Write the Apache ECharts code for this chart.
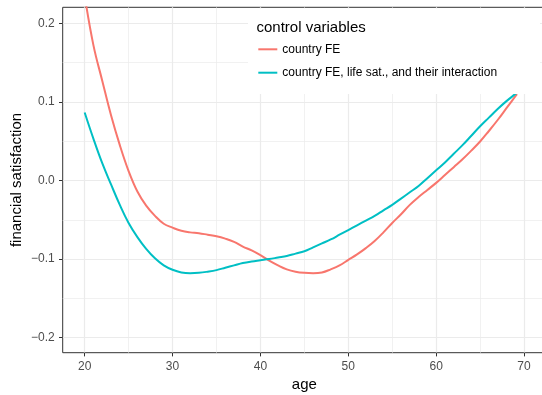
<!DOCTYPE html>
<html>
<head>
<meta charset="utf-8">
<script src="https://cdn.jsdelivr.net/npm/echarts@6/dist/echarts.min.js"></script>
<style>
  html, body { margin: 0; padding: 0; background: #fff; }
  #chart { width: 542px; height: 395px; }
</style>
</head>
<body>
<div id="chart"></div>
<script>
// Predicted financial satisfaction by age, under two sets of control variables
const seriesNames = ['country FE', 'country FE, life sat., and their interaction'];

const agesFE = [20, 21, 22, 23, 24, 25, 26, 27, 28, 29, 30, 31, 32, 33, 34, 35, 36, 37, 38, 39,
  40, 41, 42, 43, 44, 45, 46, 47, 48, 49, 50, 51, 52, 53, 54, 55, 56, 57, 58, 59,
  60, 61, 62, 63, 64, 65, 66, 67, 68, 69, 69.2];
const valuesFE = [0.235, 0.172, 0.127, 0.083, 0.045, 0.012, -0.014, -0.032, -0.045, -0.055,
  -0.060, -0.064, -0.066, -0.067, -0.069, -0.071, -0.074, -0.078, -0.084, -0.089,
  -0.095, -0.102, -0.108, -0.113, -0.116, -0.1175, -0.118, -0.117, -0.113, -0.108,
  -0.101, -0.094, -0.086, -0.077, -0.066, -0.054, -0.043, -0.031, -0.021, -0.012,
  -0.003, 0.007, 0.017, 0.027, 0.038, 0.0496, 0.063, 0.077, 0.092, 0.107, 0.110];

const agesLS = [20, 21, 22, 23, 24, 25, 26, 27, 28, 29, 30, 31, 32, 33, 34, 35, 36, 37, 38, 39,
  40, 41, 42, 43, 44, 45, 46, 47, 48, 49, 50, 51, 52, 53, 54, 55, 56, 57, 58, 59,
  60, 61, 62, 63, 64, 65, 66, 67, 68, 69, 69.2];
const valuesLS = [0.0865, 0.053, 0.022, -0.005, -0.031, -0.054, -0.072, -0.087, -0.099, -0.108,
  -0.1136, -0.117, -0.118, -0.1175, -0.116, -0.114, -0.111, -0.108, -0.105, -0.103,
  -0.1015, -0.100, -0.098, -0.096, -0.093, -0.090, -0.085, -0.080, -0.075, -0.069,
  -0.063, -0.057, -0.051, -0.045, -0.038, -0.031, -0.023, -0.015, -0.007, 0.003,
  0.013, 0.023, 0.034, 0.045, 0.057, 0.069, 0.080, 0.091, 0.101, 0.110, 0.112];

// Axis breaks: labelled major ticks and unlabelled minor grid lines
const xMajor = [20, 30, 40, 50, 60, 70];
const xMinor = [25, 35, 45, 55, 65];
const yMajor = [-0.2, -0.1, 0, 0.1, 0.2];
const yMinor = [-0.15, -0.05, 0.05, 0.15];

const xRange = [17.5, 72.5];
const yRange = [-0.2191, 0.2204];

const colors = ['#F8766D', '#00BFC4'];
const font = 'Liberation Sans, Arial, sans-serif';

const zip = (xs, ys) => xs.map((x, i) => [x, ys[i]]);
const fmtY = v => {
  if (Math.abs(v) < 1e-9) return '0.0';
  return v < 0 ? '\u2212' + Math.abs(v).toFixed(1) : v.toFixed(1);
};

const chart = echarts.init(document.getElementById('chart'), null, { renderer: 'canvas' });

const tickStyle = { color: '#333333', width: 1 };
const labelStyle = { fontFamily: font, fontSize: 12, color: '#4D4D4D' };
const nameStyle = { fontFamily: font, fontSize: 15, color: '#000' };
const legendText = { fontFamily: font, fontSize: 12, color: '#000', lineHeight: 14 };

function majorAxis(range, ticks, extra) {
  return Object.assign({
    type: 'value', min: range[0], max: range[1],
    axisLine: { show: false, onZero: false },
    axisTick: { show: true, length: 3.7, lineStyle: tickStyle, customValues: ticks },
    splitLine: { show: true, lineStyle: { color: '#EBEBEB', width: 1.2 } }
  }, extra);
}

function minorAxis(range, ticks) {
  return {
    type: 'value', min: range[0], max: range[1],
    axisLine: { show: false, onZero: false },
    axisTick: { show: false, customValues: ticks },
    axisLabel: { show: false, customValues: ticks },
    splitLine: { show: true, lineStyle: { color: '#EBEBEB', width: 0.7 } }
  };
}

chart.setOption({
  animation: false,
  backgroundColor: '#fff',
  grid: {
    left: 62.7, top: 7.3, right: -4, bottom: 42.3,
    outerBoundsMode: 'none', containLabel: false,
    show: true, borderColor: '#333333', borderWidth: 1, backgroundColor: '#fff'
  },
  xAxis: [
    majorAxis(xRange, xMajor, {
      name: 'age', nameLocation: 'middle', nameGap: 25, nameTextStyle: nameStyle,
      nameMoveOverlap: false,
      axisLabel: Object.assign({ margin: 8, customValues: xMajor }, labelStyle)
    }),
    minorAxis(xRange, xMinor)
  ],
  yAxis: [
    majorAxis(yRange, yMajor, {
      name: 'financial satisfaction', nameLocation: 'middle', nameGap: 38, nameRotate: 90,
      nameTextStyle: nameStyle, nameMoveOverlap: false,
      axisLabel: Object.assign({ margin: 8, customValues: yMajor, formatter: fmtY }, labelStyle)
    }),
    minorAxis(yRange, yMinor)
  ],
  legend: [
    {
      data: [seriesNames[0]], left: 258.3, top: 42.3, padding: 0,
      icon: 'rect', itemWidth: 19, itemHeight: 2, textStyle: legendText, z: 6
    },
    {
      data: [seriesNames[1]], left: 258.3, top: 65.7, padding: 0,
      icon: 'rect', itemWidth: 19, itemHeight: 2, textStyle: legendText, z: 6
    }
  ],
  graphic: [
    { type: 'rect', left: 248, top: 8.5, z: 3, shape: { width: 292, height: 85.5 },
      style: { fill: '#fff' } },
    { type: 'text', left: 256.5, top: 20, z: 5,
      style: { text: 'control variables', fontFamily: font, fontSize: 15, fill: '#000' } }
  ],
  series: [
    {
      name: seriesNames[0], type: 'line', data: zip(agesFE, valuesFE), smooth: 0.4,
      xAxisIndex: 0, yAxisIndex: 0,
      showSymbol: false, color: colors[0], lineStyle: { width: 2, color: colors[0] }, z: 2
    },
    {
      name: seriesNames[1], type: 'line', data: zip(agesLS, valuesLS), smooth: 0.4,
      xAxisIndex: 0, yAxisIndex: 0,
      showSymbol: false, color: colors[1], lineStyle: { width: 2, color: colors[1] }, z: 2
    }
  ]
});
</script>
</body>
</html>
